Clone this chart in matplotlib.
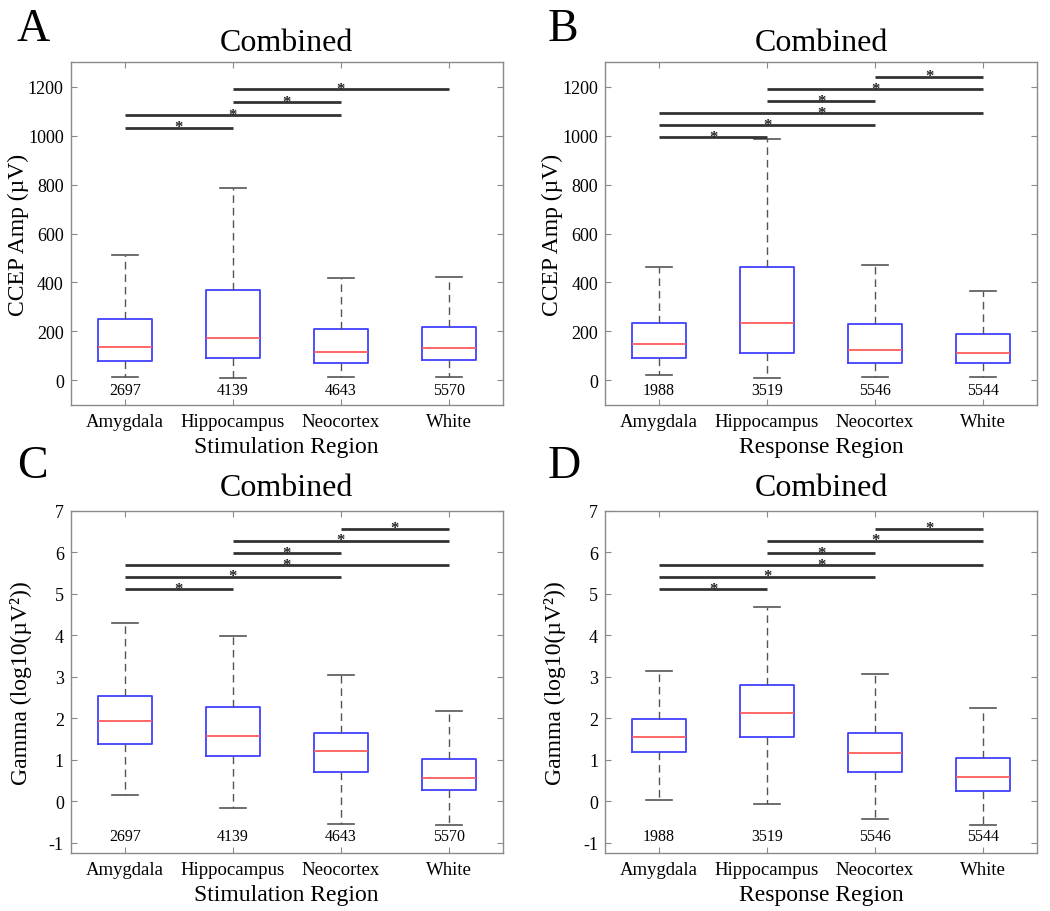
import matplotlib
matplotlib.use("Agg")
import matplotlib.pyplot as plt
from matplotlib.ticker import FixedLocator

plt.rcParams['font.family'] = ['Liberation Serif', 'DejaVu Serif']

regions = ["Amygdala", "Hippocampus", "Neocortex", "White"]

# Panel A: CCEP amplitude by stimulation region
a_whislo = [15, 8, 12, 14]
a_q1 = [77, 89, 71, 81]
a_med = [137, 172, 116, 130]
a_q3 = [250, 368, 209, 216]
a_whishi = [512, 786, 417, 422]
a_n = ["2697", "4139", "4643", "5570"]
a_pairs = [(1, 2), (1, 3), (2, 3), (2, 4)]
a_pair_y = [1033, 1084, 1136, 1189]

# Panel B: CCEP amplitude by response region
b_whislo = [21, 8, 12, 12]
b_q1 = [90, 111, 71, 71]
b_med = [148, 236, 123, 113]
b_q3 = [236, 465, 231, 189]
b_whishi = [461, 988, 470, 364]
b_n = ["1988", "3519", "5546", "5544"]
b_pairs = [(1, 2), (1, 3), (1, 4), (2, 3), (2, 4), (3, 4)]
b_pair_y = [994, 1043, 1092, 1141, 1190, 1240]

# Panel C: Gamma by stimulation region
c_whislo = [0.14, -0.16, -0.55, -0.57]
c_q1 = [1.37, 1.09, 0.71, 0.26]
c_med = [1.92, 1.57, 1.20, 0.56]
c_q3 = [2.54, 2.26, 1.64, 1.02]
c_whishi = [4.29, 3.98, 3.03, 2.18]
c_n = ["2697", "4139", "4643", "5570"]
c_pairs = [(1, 2), (1, 3), (1, 4), (2, 3), (2, 4), (3, 4)]
c_pair_y = [5.11, 5.40, 5.68, 5.97, 6.27, 6.56]

# Panel D: Gamma by response region
d_whislo = [0.02, -0.06, -0.42, -0.57]
d_q1 = [1.19, 1.54, 0.69, 0.25]
d_med = [1.55, 2.13, 1.15, 0.59]
d_q3 = [1.98, 2.79, 1.64, 1.04]
d_whishi = [3.14, 4.68, 3.06, 2.24]
d_n = ["1988", "3519", "5546", "5544"]
d_pairs = [(1, 2), (1, 3), (1, 4), (2, 3), (2, 4), (3, 4)]
d_pair_y = [5.11, 5.40, 5.68, 5.97, 6.27, 6.56]

W, H = 1050, 912
fig = plt.figure(figsize=(W / 100, H / 100), dpi=100)

SPINE = '#8a8a8a'


def make_panel(rect, whislo, q1, med, q3, whishi, nlabels, pairs, pair_y,
               ylim, yticks, ylabel, xlabel, n_y, title_pad, ylab_x):
    ax = fig.add_axes(rect)
    stats = []
    for i in range(len(regions)):
        stats.append(dict(whislo=whislo[i], q1=q1[i], med=med[i], q3=q3[i],
                          whishi=whishi[i], fliers=[], label=regions[i]))
    ax.bxp(stats, positions=range(1, len(regions) + 1), widths=0.5,
           capwidths=0.24, showfliers=False, patch_artist=False,
           boxprops=dict(color='#4040ff', linewidth=1.3),
           medianprops=dict(color='#ff5a5a', linewidth=1.3),
           whiskerprops=dict(color='#555555', linewidth=1.0,
                             linestyle=(0, (5.5, 3.5))),
           capprops=dict(color='#555555', linewidth=1.2))
    ax.set_xlim(0.5, len(regions) + 0.5)
    ax.set_ylim(*ylim)
    ax.yaxis.set_major_locator(FixedLocator(yticks))
    ax.set_yticklabels([str(t) for t in yticks])
    ax.set_xticks(range(1, len(regions) + 1))
    ax.set_xticklabels(regions)
    ax.tick_params(axis='both', direction='in', length=4, width=0.8,
                   color=SPINE, top=True, right=True)
    ax.tick_params(axis='x', labelsize=13.5, pad=6)
    ax.tick_params(axis='y', labelsize=13, pad=5)
    for s in ax.spines.values():
        s.set_color(SPINE)
        s.set_linewidth(1.0)
    ax.set_title("Combined", fontsize=23, pad=title_pad)
    ax.set_ylabel(ylabel, fontsize=17)
    ax.yaxis.set_label_coords(ylab_x, 0.5)
    ax.set_xlabel(xlabel, fontsize=17, labelpad=4)
    for i, n in enumerate(nlabels):
        ax.text(i + 1, n_y, n, ha='center', va='center', fontsize=11.5)
    for (p1, p2), yv in zip(pairs, pair_y):
        ax.plot([p1, p2], [yv, yv], color='#333333', linewidth=2.0,
                solid_capstyle='butt')
        ax.annotate('*', xy=((p1 + p2) / 2, yv), xytext=(0, -2.5),
                    textcoords='offset points', ha='center', va='baseline',
                    fontsize=12, fontweight='bold', color='#222222')
    return ax


top_rect_y = 1 - 405.7 / H
bot_rect_y = 1 - 854.0 / H
hgt = (405.7 - 63.3) / H
wid = 432.0 / W
xl_l = 70.7 / W
xl_r = 605.0 / W

make_panel([xl_l, top_rect_y, wid, hgt], a_whislo, a_q1, a_med, a_q3, a_whishi,
           a_n, a_pairs, a_pair_y, (-100, 1300), list(range(0, 1201, 200)),
           "CCEP Amp (µV)", "Stimulation Region", -40, 9, -0.097)
make_panel([xl_r, top_rect_y, wid, hgt], b_whislo, b_q1, b_med, b_q3, b_whishi,
           b_n, b_pairs, b_pair_y, (-100, 1300), list(range(0, 1201, 200)),
           "CCEP Amp (µV)", "Response Region", -40, 9, -0.097)
make_panel([xl_l, bot_rect_y, wid, hgt], c_whislo, c_q1, c_med, c_q3, c_whishi,
           c_n, c_pairs, c_pair_y, (-1.25, 7), list(range(-1, 8)),
           "Gamma (log10(µV²))", "Stimulation Region", -0.85, 11.5, -0.09)
make_panel([xl_r, bot_rect_y, wid, hgt], d_whislo, d_q1, d_med, d_q3, d_whishi,
           d_n, d_pairs, d_pair_y, (-1.25, 7), list(range(-1, 8)),
           "Gamma (log10(µV²))", "Response Region", -0.85, 11.5, -0.09)

for letter, x, y in [("A", 33, 41), ("B", 563, 41), ("C", 32, 478), ("D", 564, 478)]:
    fig.text(x / W, 1 - y / H, letter, ha='center', va='baseline', fontsize=33)

fig.savefig("out.png", dpi=100)
